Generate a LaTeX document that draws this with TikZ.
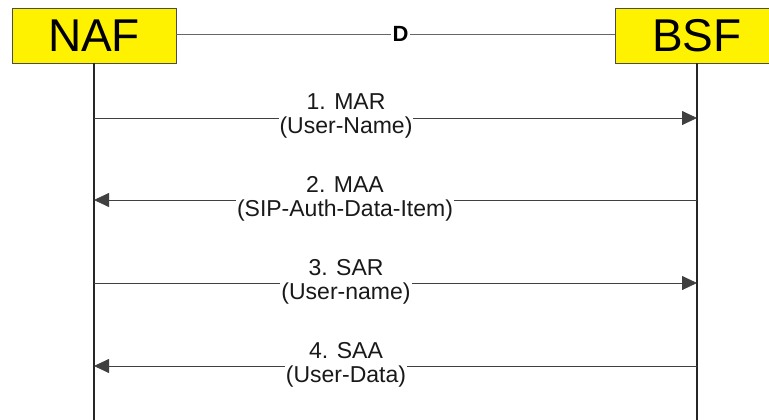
\documentclass[tikz,border=0pt]{standalone}
\usepackage{fontspec}
\setmainfont{Liberation Sans}
\usetikzlibrary{arrows.meta}
\begin{document}
\begin{tikzpicture}[x=1pt,y=-1pt,
  entity/.style={draw=black!70, line width=0.8pt, fill=yellow, minimum width=164pt, minimum height=55pt, inner sep=0pt, font=\fontsize{46}{46}\selectfont},
  life/.style={line width=1.1pt, black!85},
  msg/.style={line width=0.8pt, black!75, -{Triangle[length=15pt,width=14pt]}},
  lbl/.style={fill=white, inner sep=1pt, align=center, font=\fontsize{23}{24.5}\selectfont, text=black!90}]
\useasboundingbox (0,0) rectangle (769,420);
\node[entity] (naf) at (94,35.5) {NAF};
\node[entity] (bsf) at (697,35.5) {BSF};
\coordinate (nafend) at (94,420);
\coordinate (bsfend) at (697,420);
\draw[life] (naf.south) -- (nafend);
\draw[life] (bsf.south) -- (bsfend);
\node[inner sep=1.5pt, font=\fontsize{22}{22}\selectfont\bfseries] (d) at (400.5,34) {D};
\draw[black!60, line width=0.6pt] (naf.east |- d) -- (d.west);
\draw[black!60, line width=0.6pt] (d.east) -- (bsf.west |- d);
\coordinate (a1l) at (94,118); \coordinate (a1r) at (697,118);
\coordinate (a2l) at (94,200); \coordinate (a2r) at (697,200);
\coordinate (a3l) at (94,283); \coordinate (a3r) at (697,283);
\coordinate (a4l) at (94,366); \coordinate (a4r) at (697,366);
\draw[msg] (a1l) -- (a1r);
\draw[msg] (a2r) -- (a2l);
\draw[msg] (a3l) -- (a3r);
\draw[msg] (a4r) -- (a4l);
\node[lbl] (l1) at (346,116) {1. MAR\\(User-Name)};
\node[lbl] (l2) at (345,199) {2. MAA\\(SIP-Auth-Data-Item)};
\node[lbl] (l3) at (346,282) {3. SAR\\(User-name)};
\node[lbl] (l4) at (346,365) {4. SAA\\(User-Data)};
\end{tikzpicture}
\end{document}
